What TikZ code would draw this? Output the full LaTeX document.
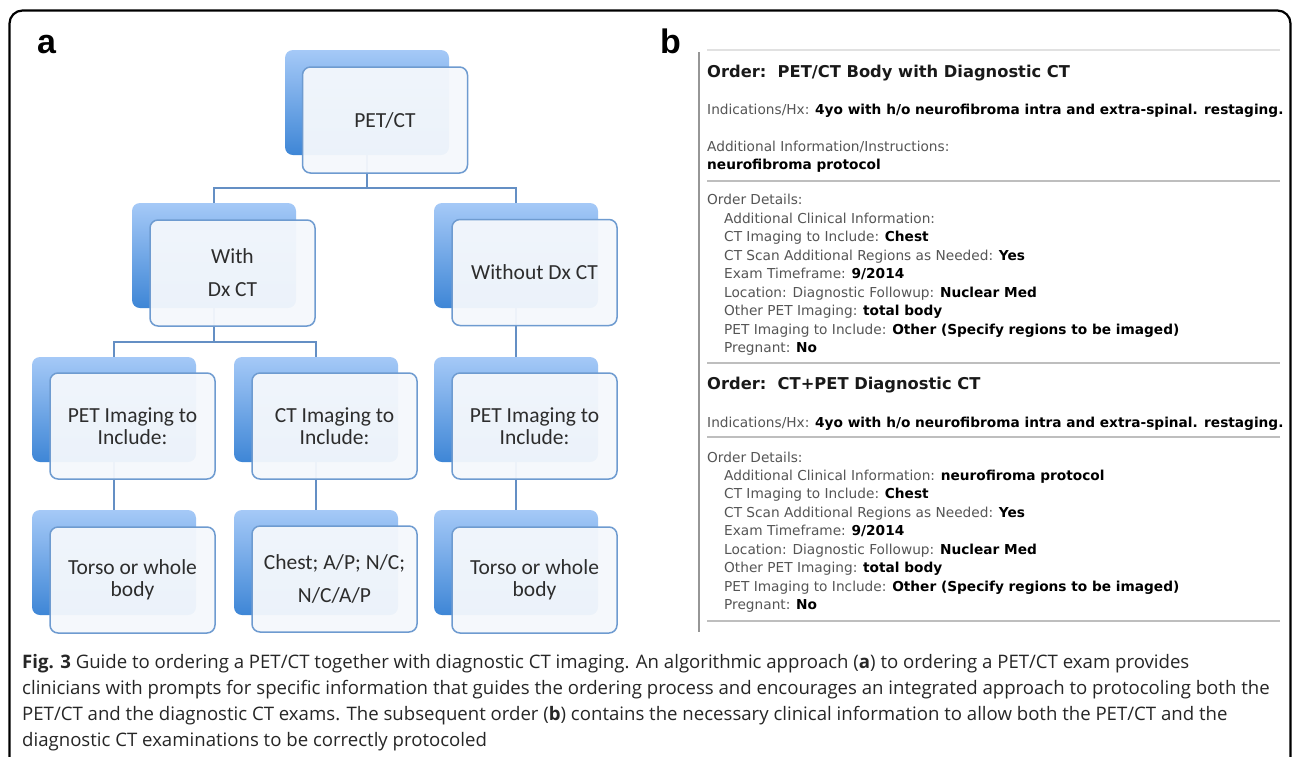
\documentclass[tikz,border=0pt]{standalone}
\usepackage{fontspec}
\setmainfont{Carlito}
\newfontfamily\capfont{Open Sans}
\newfontfamily\ordfont{DejaVu Sans}
\newfontfamily\panelfont{Liberation Sans}
\definecolor{backtop}{RGB}{165,201,247}
\definecolor{backbot}{RGB}{62,134,214}
\definecolor{frontfill}{RGB}{245,248,252}
\definecolor{frontline}{RGB}{110,155,208}
\definecolor{connc}{RGB}{100,143,196}
\definecolor{boxtext}{RGB}{45,45,45}
\definecolor{lblgray}{RGB}{85,85,85}
\definecolor{rulegray}{RGB}{190,190,190}
\definecolor{toprule}{RGB}{225,225,225}
\definecolor{bargray}{RGB}{150,150,150}
\newcommand\ordval[1]{{\color{black}\bfseries #1}}
\tikzset{
  backbox/.style={rounded corners=8pt, minimum width=164pt, minimum height=105pt,
    inner sep=0pt, top color=backtop, bottom color=backbot},
  frontbox/.style={draw=frontline, line width=1.5pt, fill=frontfill, fill opacity=0.95,
    text opacity=1, rounded corners=8pt, minimum width=165pt, minimum height=106pt,
    inner sep=0pt, align=center, text=boxtext, font=\fontsize{21.5}{22}\selectfont},
  conn/.style={draw=connc, line width=1.8pt},
  panellbl/.style={anchor=base west, inner sep=0pt, font=\panelfont\bfseries\fontsize{34}{34}\selectfont},
  ordhead/.style={anchor=base west, inner sep=0pt, text=black!90, font=\ordfont\bfseries\fontsize{16.3}{18}\selectfont},
  ordline/.style={anchor=base west, inner sep=0pt, text=lblgray, font=\ordfont\fontsize{13.7}{16}\selectfont},
  ordrule/.style={draw=rulegray, line width=2.2pt},
  capline/.style={anchor=base west, inner sep=0pt, text=black!85, font=\capfont\fontsize{18.6}{22}\selectfont}
}
\begin{document}
\begin{tikzpicture}[x=1pt,y=-1pt]
\useasboundingbox (0,0) rectangle (1292,756);
\fill[white] (0,0) rectangle (1292,756);
% outer frame
\draw[line width=2.2pt, rounded corners=13pt] (9.5,770) -- (9.5,10.5) -- (1290.5,10.5) -- (1290.5,770);
% panel labels
\node[panellbl] (lbla) at (37,53) {a};
\node[panellbl] (lblb) at (660,53) {b};
% ---------- panel a: back boxes
\node[backbox] (bk0) at (367,102.5) {};
\node[backbox] (bk1) at (214,255.5) {};
\node[backbox] (bk2) at (516,255.5) {};
\node[backbox] (bk3) at (114,409.5) {};
\node[backbox] (bk4) at (316,409.5) {};
\node[backbox] (bk5) at (516,409.5) {};
\node[backbox] (bk6) at (114,562.5) {};
\node[backbox] (bk7) at (316,562.5) {};
\node[backbox] (bk8) at (516,562.5) {};
% connectors
\coordinate (j0) at (367,188);
\coordinate (j1) at (214,342);
\draw[conn] (bk0.south) -- (j0);
\draw[conn] (bk1.north) |- (j0);
\draw[conn] (bk2.north) |- (j0);
\draw[conn] (bk1.south) -- (j1);
\draw[conn] (bk3.north) |- (j1);
\draw[conn] (bk4.north) |- (j1);
\draw[conn] (bk2.south) -- (bk5.north);
\draw[conn] (bk3.south) -- (bk6.north);
\draw[conn] (bk4.south) -- (bk7.north);
\draw[conn] (bk5.south) -- (bk8.north);
% front boxes
\node[frontbox] (fr0) at (385,120) {PET/CT};
\node[frontbox] (fr1) at (232.5,273) {With\\[11pt]Dx CT};
\node[frontbox] (fr2) at (534.5,272.5) {Without Dx CT};
\node[frontbox] (fr3) at (132.5,426) {PET Imaging to\\Include:};
\node[frontbox] (fr4) at (334.5,426) {CT Imaging to\\Include:};
\node[frontbox] (fr5) at (534.5,426) {PET Imaging to\\Include:};
\node[frontbox] (fr6) at (132.5,580) {Torso or whole\\body};
\node[frontbox] (fr7) at (334.5,579) {Chest; A/P; N/C;\\[11pt]N/C/A/P};
\node[frontbox] (fr8) at (534.5,580) {Torso or whole\\body};
% ---------- panel b
\draw[draw=toprule, line width=1.6pt] (707,50) -- (1280,50);
\draw[draw=bargray, line width=2.6pt] (699,52) -- (699,632);
\node[ordhead] (h1) at (707,77) {Order:\ \ PET/CT Body with Diagnostic CT};
\node[ordline] (i1) at (707,114) {Indications/Hx: \ordval{4yo with h/o neurofibroma intra and extra-spinal. restaging.}};
\node[ordline] (ai1) at (707,151) {Additional Information/Instructions:};
\node[ordline] (ai2) at (707,169) {\ordval{neurofibroma protocol}};
\draw[ordrule] (707,181) -- (1280,181);
\node[ordline] (od1) at (707,204) {Order Details:};
\node[ordline] (a1) at (724,223) {Additional Clinical Information:};
\node[ordline] (a2) at (724,241.5) {CT Imaging to Include: \ordval{Chest}};
\node[ordline] (a3) at (724,260) {CT Scan Additional Regions as Needed: \ordval{Yes}};
\node[ordline] (a4) at (724,278.5) {Exam Timeframe: \ordval{9/2014}};
\node[ordline] (a5) at (724,297) {Location: Diagnostic Followup: \ordval{Nuclear Med}};
\node[ordline] (a6) at (724,315.5) {Other PET Imaging: \ordval{total body}};
\node[ordline] (a7) at (724,334) {PET Imaging to Include: \ordval{Other (Specify regions to be imaged)}};
\node[ordline] (a8) at (724,352.5) {Pregnant: \ordval{No}};
\draw[ordrule] (707,363) -- (1280,363);
\node[ordhead] (h2) at (707,389) {Order:\ \ CT+PET Diagnostic CT};
\node[ordline] (i2) at (707,427) {Indications/Hx: \ordval{4yo with h/o neurofibroma intra and extra-spinal. restaging.}};
\draw[ordrule] (707,437) -- (1280,437);
\node[ordline] (od2) at (707,462) {Order Details:};
\node[ordline] (b1) at (724,480) {Additional Clinical Information: \ordval{neurofiroma protocol}};
\node[ordline] (b2) at (724,498.5) {CT Imaging to Include: \ordval{Chest}};
\node[ordline] (b3) at (724,517) {CT Scan Additional Regions as Needed: \ordval{Yes}};
\node[ordline] (b4) at (724,535.5) {Exam Timeframe: \ordval{9/2014}};
\node[ordline] (b5) at (724,554) {Location: Diagnostic Followup: \ordval{Nuclear Med}};
\node[ordline] (b6) at (724,572.5) {Other PET Imaging: \ordval{total body}};
\node[ordline] (b7) at (724,591) {PET Imaging to Include: \ordval{Other (Specify regions to be imaged)}};
\node[ordline] (b8) at (724,609.5) {Pregnant: \ordval{No}};
\draw[ordrule] (707,621) -- (1280,621);
% ---------- caption
\node[capline] (c1) at (22,668) {\textbf{Fig. 3} Guide to ordering a PET/CT together with diagnostic CT imaging. An algorithmic approach (\textbf{a}) to ordering a PET/CT exam provides};
\node[capline] (c2) at (22,694) {clinicians with prompts for specific information that guides the ordering process and encourages an integrated approach to protocoling both the};
\node[capline] (c3) at (22,720) {PET/CT and the diagnostic CT exams. The subsequent order (\textbf{b}) contains the necessary clinical information to allow both the PET/CT and the};
\node[capline] (c4) at (22,746) {diagnostic CT examinations to be correctly protocoled};
\end{tikzpicture}
\end{document}
